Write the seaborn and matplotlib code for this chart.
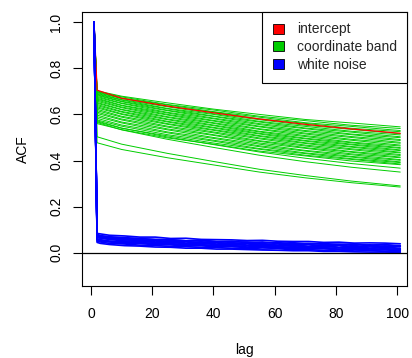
import numpy as np
import pandas as pd
import matplotlib
matplotlib.use("Agg")
import matplotlib.pyplot as plt
from matplotlib.patches import Patch
import seaborn as sns

# ---------------- data ----------------
green_lags = [1, 2, 10, 25, 40, 55, 70, 85, 101]
green_lines = [
    [1.0, .702, .679, .650, .623, .600, .578, .563, .546],
    [1.0, .699, .676, .643, .619, .592, .573, .553, .539],
    [1.0, .697, .671, .641, .612, .588, .564, .548, .530],
    [1.0, .694, .669, .635, .610, .581, .561, .540, .525],
    [1.0, .691, .664, .633, .603, .577, .553, .535, .516],
    [1.0, .688, .662, .626, .600, .570, .548, .527, .511],
    [1.0, .685, .657, .624, .593, .567, .541, .523, .503],
    [1.0, .682, .655, .618, .591, .560, .538, .515, .499],
    [1.0, .678, .649, .616, .584, .556, .530, .512, .491],
    [1.0, .674, .647, .609, .581, .549, .526, .504, .487],
    [1.0, .670, .640, .606, .574, .546, .519, .500, .479],
    [1.0, .666, .638, .600, .571, .538, .515, .492, .475],
    [1.0, .662, .632, .597, .564, .535, .508, .488, .467],
    [1.0, .657, .629, .590, .561, .527, .504, .480, .463],
    [1.0, .652, .622, .587, .554, .524, .497, .477, .456],
    [1.0, .648, .620, .580, .551, .518, .494, .471, .453],
    [1.0, .643, .613, .577, .544, .515, .487, .468, .446],
    [1.0, .638, .610, .570, .541, .508, .484, .461, .443],
    [1.0, .633, .603, .567, .534, .505, .477, .458, .436],
    [1.0, .628, .600, .560, .531, .498, .474, .451, .433],
    [1.0, .622, .592, .557, .524, .494, .467, .447, .426],
    [1.0, .616, .588, .549, .520, .486, .463, .439, .422],
    [1.0, .610, .580, .545, .512, .483, .456, .436, .415],
    [1.0, .604, .576, .537, .509, .476, .453, .429, .412],
    [1.0, .597, .567, .533, .500, .471, .444, .425, .404],
    [1.0, .590, .563, .524, .496, .464, .441, .418, .401],
    [1.0, .583, .554, .520, .488, .460, .433, .415, .394],
    [1.0, .576, .549, .512, .484, .452, .430, .408, .391],
    [1.0, .568, .540, .507, .476, .449, .423, .405, .385],
    [1.0, .560, .534, .498, .471, .441, .420, .398, .382],
    [1.0, .572, .541, .502, .469, .437, .410, .387, .367],
    [1.0, .565, .533, .492, .457, .423, .395, .371, .350],
    [1.0, .503, .471, .431, .396, .362, .335, .311, .290],
    [1.0, .477, .448, .412, .381, .350, .325, .304, .285],
]

red_lags = [1, 2, 10, 25, 40, 55, 70, 85, 101]
red_line = [1.0, .705, .670, .636, .607, .580, .557, .537, .518]

blue_lags = [1, 2, 3, 6, 11, 16, 21, 26, 31, 36, 41, 46, 51,
             56, 61, 66, 71, 76, 81, 86, 91, 96, 101]
blue_lines = [
    [1.0, .084, .082, .076, .073, .068, .068, .062, .063, .058, .057, .056, .053, .054, .050, .049, .049, .045, .046, .042, .043, .042, .039],
    [1.0, .078, .073, .070, .063, .062, .057, .056, .052, .052, .048, .047, .047, .043, .044, .040, .041, .037, .038, .035, .034, .035, .031],
    [1.0, .072, .068, .062, .059, .054, .053, .049, .048, .045, .044, .040, .041, .037, .038, .034, .035, .031, .032, .028, .029, .028, .027],
    [1.0, .066, .063, .058, .051, .050, .045, .044, .040, .040, .036, .036, .033, .033, .030, .030, .027, .027, .024, .024, .021, .022, .019],
    [1.0, .061, .057, .051, .048, .043, .042, .037, .037, .033, .033, .029, .030, .026, .027, .023, .024, .020, .021, .018, .018, .015, .016],
    [1.0, .056, .051, .047, .041, .040, .035, .034, .030, .030, .026, .026, .023, .023, .020, .020, .017, .017, .014, .014, .011, .012, .010],
    [1.0, .050, .047, .041, .038, .033, .032, .027, .027, .023, .023, .019, .020, .016, .018, .013, .014, .010, .012, .008, .009, .006, .007],
    [1.0, .045, .041, .036, .031, .029, .025, .024, .020, .020, .016, .016, .014, .012, .011, .009, .009, .006, .006, .004, .003, .003, .002],
    [1.0, .070, .066, .060, .060, .048, .055, .042, .050, .038, .046, .034, .042, .030, .040, .028, .036, .025, .033, .020, .035, .018, .030],
    [1.0, .074, .070, .065, .055, .058, .047, .053, .042, .048, .038, .045, .033, .041, .029, .038, .025, .036, .022, .033, .018, .030, .015],
    [1.0, .080, .075, .068, .066, .061, .058, .057, .052, .055, .049, .050, .044, .047, .040, .044, .037, .041, .034, .039, .030, .036, .026],
    [1.0, .058, .054, .049, .044, .046, .038, .040, .033, .036, .028, .032, .025, .029, .022, .026, .018, .023, .015, .021, .012, .019, .008],
]

legend_labels = ["intercept", "coordinate band", "white noise"]
legend_colors = ["#FF0000", "#00CD00", "#0000FF"]

x_ticks = [0, 20, 40, 60, 80, 100]
y_ticks = [0.0, 0.2, 0.4, 0.6, 0.8, 1.0]

# ---------------- build long-form tables ----------------
def long_frame(lags, lines, prefix):
    rows = []
    for i, vals in enumerate(lines):
        for lg, v in zip(lags, vals):
            rows.append({"lag": lg, "acf": v, "line": f"{prefix}{i}"})
    return pd.DataFrame(rows)

df_green = long_frame(green_lags, green_lines, "g")
df_red = long_frame(red_lags, [red_line], "r")
df_blue = long_frame(blue_lags, blue_lines, "b")

# ---------------- style ----------------
sns.set_theme(style="ticks")
plt.rcParams["font.family"] = ["Liberation Sans", "DejaVu Sans"]
plt.rcParams["font.size"] = 10

fig = plt.figure(figsize=(4.12, 3.58), dpi=100)
ax = fig.add_axes([0.199, 0.2011, 0.9886 - 0.199, 0.9665 - 0.2011])

sns.lineplot(data=df_green, x="lag", y="acf", units="line", estimator=None,
             color=legend_colors[1], linewidth=0.7, sort=False, ax=ax, legend=False)
sns.lineplot(data=df_red, x="lag", y="acf", units="line", estimator=None,
             color=legend_colors[0], linewidth=0.9, sort=False, ax=ax, legend=False)
sns.lineplot(data=df_blue, x="lag", y="acf", units="line", estimator=None,
             color=legend_colors[2], linewidth=1.2, sort=False, ax=ax, legend=False)

ax.axhline(0, color="black", linewidth=0.9, zorder=5)

ax.set_xlim(-2.94, 103.3)
ax.set_ylim(-0.144, 1.044)
ax.set_xticks(x_ticks)
ax.set_xticklabels([str(t) for t in x_ticks])
ax.set_yticks(y_ticks)
ax.set_yticklabels([f"{t:.1f}" for t in y_ticks], rotation=90, va="center")

for s in ax.spines.values():
    s.set_visible(True)
    s.set_color("black")
    s.set_linewidth(0.8)

ax.tick_params(axis="both", direction="out", length=6.5, width=0.8,
               color="black", labelcolor="black", labelsize=10)
ax.tick_params(axis="x", pad=8.5)
ax.tick_params(axis="y", pad=7)

ax.set_xlabel("lag", fontsize=10, color="black", labelpad=16)
ax.set_ylabel("ACF", fontsize=10, color="black", labelpad=14)

handles = [Patch(facecolor=c, edgecolor="black", linewidth=0.6) for c in legend_colors]
leg = ax.legend(handles, legend_labels, loc="upper right", frameon=True,
                fancybox=False, edgecolor="black", framealpha=1,
                borderaxespad=0, fontsize=10, handlelength=0.84,
                handleheight=0.72, handletextpad=0.9, labelspacing=0.28,
                borderpad=0.75)
leg.get_frame().set_linewidth(0.8)

fig.savefig("out.png", dpi=100)
